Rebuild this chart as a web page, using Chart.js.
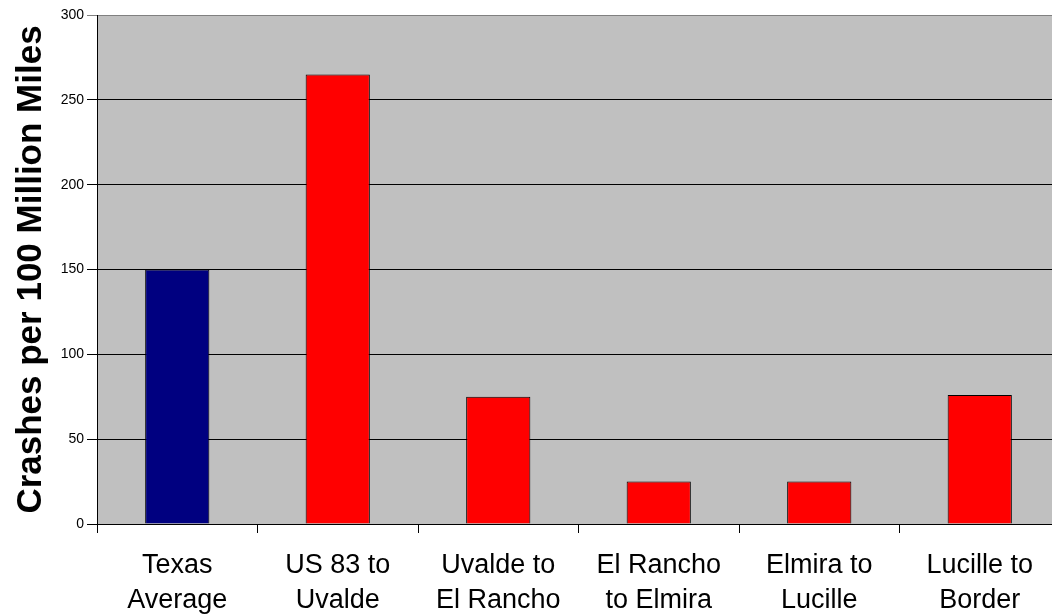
<!DOCTYPE html>
<html>
<head>
<meta charset="utf-8">
<script src="https://cdn.jsdelivr.net/npm/chart.js@4/dist/chart.umd.min.js"></script>
<style>
  html, body { margin: 0; padding: 0; background: #fff; overflow: hidden; }
  #wrap { width: 1064px; height: 615px; }
</style>
</head>
<body>
<div id="wrap"><canvas id="crashChart" width="1064" height="615"></canvas></div>
<script>
const categories = [
  ['Texas', 'Average'],
  ['US 83 to', 'Uvalde'],
  ['Uvalde to', 'El Rancho'],
  ['El Rancho', 'to Elmira'],
  ['Elmira to', 'Lucille'],
  ['Lucille to', 'Border']
];
const crashRates = [150, 265, 75, 25, 25, 76];
const barColors = ['#000080', '#FF0000', '#FF0000', '#FF0000', '#FF0000', '#FF0000'];
const yTicks = [0, 50, 100, 150, 200, 250, 300];

// gray plot area like the old excel charts
const plotBg = {
  id: 'plotBg',
  beforeDraw(chart) {
    const { ctx, chartArea: a } = chart;
    ctx.save();
    ctx.fillStyle = '#C0C0C0';
    ctx.fillRect(a.left, a.top, a.right - a.left, a.bottom - a.top);
    ctx.restore();
  }
};

const ctx = document.getElementById('crashChart').getContext('2d');
new Chart(ctx, {
  type: 'bar',
  data: {
    labels: categories,
    datasets: [{
      data: crashRates,
      backgroundColor: barColors,
      borderColor: '#000',
      borderWidth: 1,
      barPercentage: 0.4,
      categoryPercentage: 1.0
    }]
  },
  options: {
    responsive: false,
    animation: false,
    layout: { padding: { left: 0, right: 4, top: 15, bottom: 0 } },
    plugins: {
      legend: { display: false },
      tooltip: { enabled: false }
    },
    scales: {
      x: {
        offset: true,
        grid: {
          offset: true,
          drawOnChartArea: false,
          color: '#000',
          tickLength: 9
        },
        border: { color: '#000', width: 1 },
        ticks: {
          color: '#000',
          font: { family: 'Liberation Sans, Arial', size: 27, lineHeight: 1.3 },
          padding: 15,
          maxRotation: 0,
          autoSkip: false
        },
        afterFit(scale) { scale.height = 91; }
      },
      y: {
        min: 0,
        max: 300,
        afterBuildTicks(scale) { scale.ticks = yTicks.map(v => ({ value: v })); },
        grid: {
          color: c => (c.tick && c.tick.value === 300 ? '#808080' : '#000'),
          tickLength: 10
        },
        border: { color: '#000', width: 1 },
        ticks: {
          color: '#000',
          font: { family: 'Liberation Sans, Arial', size: 14 },
          padding: 3
        },
        title: {
          display: true,
          text: 'Crashes per 100 Million Miles',
          color: '#000',
          font: { family: 'Liberation Sans, Arial', size: 35, weight: 'bold' },
          padding: { top: 10, bottom: 0 }
        },
        afterFit(scale) { scale.width = 97; }
      }
    }
  },
  plugins: [plotBg]
});
</script>
</body>
</html>
